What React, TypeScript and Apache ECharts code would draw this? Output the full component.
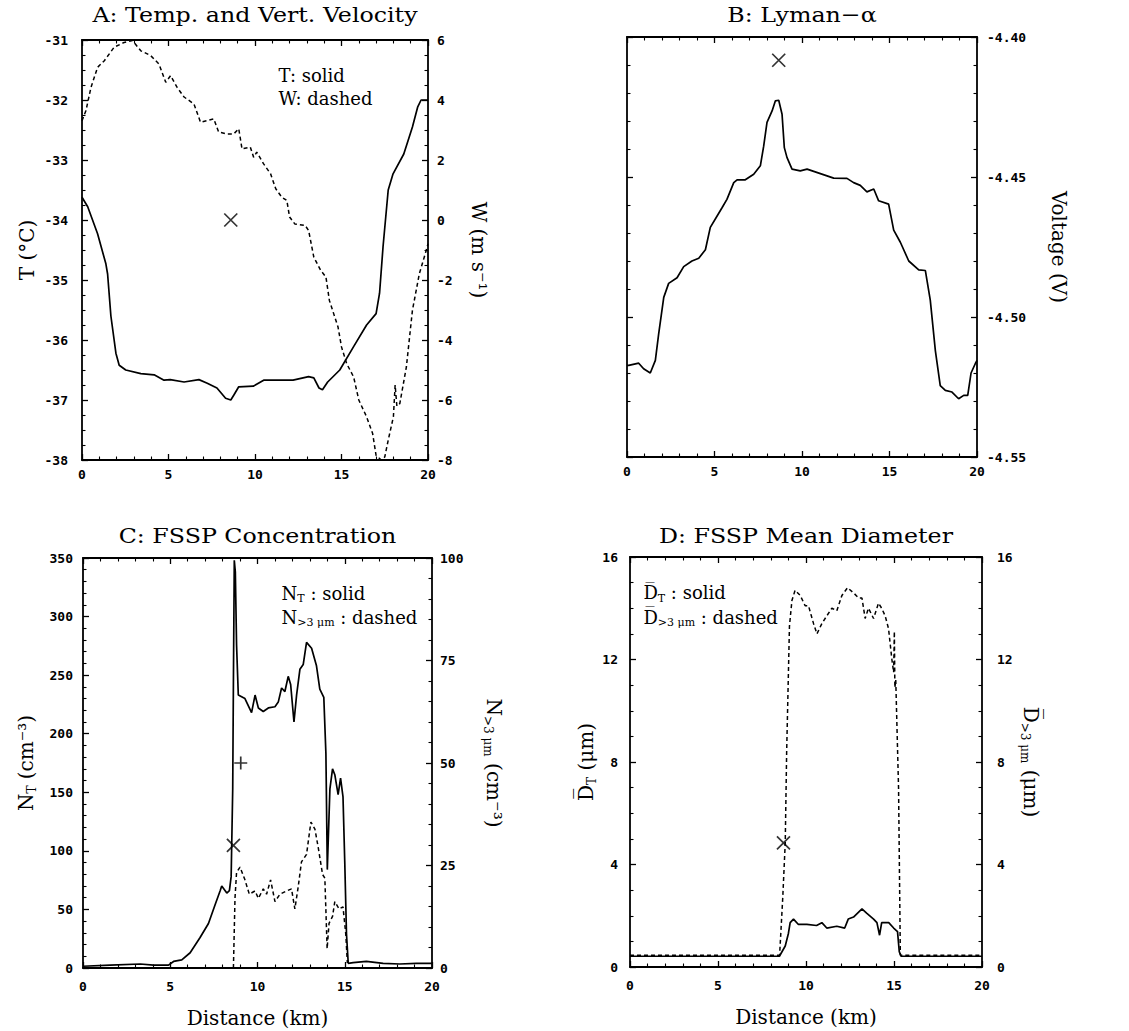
import React, { useEffect, useRef } from "react";
import * as echarts from "echarts";

// ---------- tick values ----------
const distTicks = [0, 5, 10, 15, 20];
const tempTicks = [-38, -37, -36, -35, -34, -33, -32, -31];
const wTicks = [-8, -6, -4, -2, 0, 2, 4, 6];
const voltTicks = [-4.55, -4.5, -4.45, -4.4];
const ntTicks = [0, 50, 100, 150, 200, 250, 300, 350];
const n3Ticks = [0, 25, 50, 75, 100];
const diamTicks = [0, 4, 8, 12, 16];

// ---------- Panel A: temperature (solid) and vertical velocity (dashed) ----------
const tempT: [number, number][] = [
  [0, -33.62], [0.33, -33.78], [0.9, -34.23], [1.38, -34.73], [1.48, -34.9], [1.67, -35.6],
  [1.96, -36.22], [2.15, -36.42], [2.53, -36.5], [3.4, -36.56], [4.17, -36.58], [4.74, -36.67],
  [5.1, -36.66], [5.9, -36.7], [6.76, -36.66], [7.24, -36.72], [7.8, -36.8], [8.3, -36.97],
  [8.6, -37.0], [8.77, -36.92], [9.06, -36.78], [9.9, -36.77], [10.5, -36.67], [11.5, -36.67],
  [12.2, -36.67], [13.1, -36.61], [13.4, -36.63], [13.7, -36.8], [13.9, -36.83], [14.2, -36.7],
  [14.9, -36.5], [15.7, -36.11], [16.45, -35.75], [17.0, -35.56], [17.2, -35.22], [17.4, -34.45],
  [17.7, -33.5], [17.98, -33.23], [18.6, -32.9], [19.1, -32.45], [19.4, -32.12], [19.6, -32.0], [20, -32.0],
];
const vertW: [number, number][] = [
  [0, 3.31], [0.23, 3.65], [0.52, 4.42], [0.9, 5.09], [1.29, 5.31], [1.86, 5.76], [2.44, 5.92],
  [2.92, 5.98], [3.4, 5.64], [3.97, 5.48], [4.45, 5.2], [4.84, 4.59], [5.12, 4.81], [5.5, 4.42],
  [5.9, 4.1], [6.47, 3.87], [6.85, 3.26], [7.62, 3.37], [7.9, 2.93], [8.4, 2.87], [8.77, 2.87],
  [9.06, 3.04], [9.25, 2.37], [9.73, 2.43], [9.92, 2.09], [10.1, 2.26], [10.5, 1.87], [10.9, 1.54],
  [11.2, 1.04], [11.55, 0.76], [11.84, 0.65], [12.0, 0.1], [12.3, -0.13], [12.9, -0.18], [13.1, -0.35],
  [13.4, -1.24], [13.8, -1.68], [14.1, -1.9], [14.3, -2.68], [14.8, -3.57], [15.0, -4.23], [15.3, -4.79],
  [15.7, -5.23], [16.0, -6.0], [16.45, -6.56], [16.8, -7.12], [17.0, -7.85], [17.3, -8.0], [17.5, -7.9],
  [17.7, -7.34], [18.0, -6.56], [18.1, -5.5], [18.2, -6.2], [18.37, -6.12], [18.75, -4.9], [19.1, -3.01],
  [19.5, -1.79], [19.9, -1.01], [20, -0.79],
];
const markA: [number, number][] = [[8.6, -34.0]];

// ---------- Panel B: Lyman-alpha voltage ----------
const lymanV: [number, number][] = [
  [0, -4.5173], [0.1, -4.5173], [0.67, -4.5165], [0.95, -4.5185], [1.33, -4.52], [1.62, -4.5155],
  [1.81, -4.506], [2.1, -4.493], [2.38, -4.488], [2.86, -4.486], [3.24, -4.482], [3.71, -4.48],
  [4.1, -4.479], [4.48, -4.476], [4.76, -4.468], [5.14, -4.464], [5.43, -4.461], [5.71, -4.458],
  [6.1, -4.452], [6.29, -4.451], [6.76, -4.451], [7.24, -4.449], [7.62, -4.446], [7.81, -4.439],
  [8.0, -4.4305], [8.29, -4.4264], [8.48, -4.4228], [8.67, -4.4226], [8.86, -4.4276], [8.99, -4.4395],
  [9.14, -4.443], [9.43, -4.4472], [9.9, -4.4478], [10.29, -4.4472], [10.67, -4.448], [11.43, -4.4496],
  [11.81, -4.4504], [12.57, -4.4505], [12.95, -4.452], [13.33, -4.453], [13.71, -4.4553], [14.1, -4.4543],
  [14.38, -4.4585], [14.95, -4.4597], [15.24, -4.469], [15.62, -4.4733], [16.1, -4.48], [16.67, -4.4832],
  [17.05, -4.4834], [17.33, -4.494], [17.62, -4.512], [17.9, -4.5245], [18.19, -4.5262], [18.57, -4.5268],
  [18.95, -4.5292], [19.24, -4.528], [19.47, -4.528], [19.66, -4.52], [19.9, -4.5167], [20, -4.5155],
];
const markB: [number, number][] = [[8.67, -4.4083]];

// ---------- Panel C: FSSP concentration ----------
const concNT: [number, number][] = [
  [0, 1.5], [1.56, 2.5], [3.28, 3.4], [4.04, 2.5], [4.9, 2.5], [5.19, 5.6], [5.66, 7], [6.14, 13],
  [6.71, 26], [7.19, 38], [7.57, 54], [7.86, 66], [7.95, 70], [8.24, 64], [8.39, 66], [8.49, 78],
  [8.58, 153], [8.62, 245], [8.67, 348], [8.73, 338], [8.8, 276], [8.9, 233], [9.28, 230], [9.66, 218],
  [9.86, 233], [10.05, 222], [10.33, 219], [10.62, 222], [11.0, 223], [11.19, 227], [11.38, 239],
  [11.57, 236], [11.76, 249], [11.9, 242], [12.09, 210], [12.24, 233], [12.43, 255], [12.62, 259],
  [12.81, 278], [13.1, 273], [13.38, 258], [13.57, 238], [13.8, 231], [13.92, 183], [14.0, 84],
  [14.15, 153], [14.3, 170], [14.43, 165], [14.62, 148], [14.76, 162], [14.9, 146], [15.0, 91],
  [15.1, 29], [15.2, 4], [15.48, 4.6], [16.24, 5.6], [17.2, 4], [18.15, 3.4], [19.1, 4], [20, 4],
];
const concN3: [number, number][] = [
  [8.62, 0], [8.71, 17], [8.8, 23.3], [9.0, 24.6], [9.28, 21.5], [9.53, 18], [9.86, 18.8], [10.05, 17],
  [10.33, 19.3], [10.52, 18], [10.75, 21.5], [11.0, 16.2], [11.29, 18], [11.67, 18.8], [11.95, 19.3],
  [12.14, 14.4], [12.33, 19.7], [12.52, 25.9], [12.81, 27.7], [13.06, 35.6], [13.29, 33.9], [13.48, 29.4],
  [13.73, 22.8], [13.86, 21.9], [13.99, 4.7], [14.1, 10.9], [14.3, 12.6], [14.43, 16.2], [14.68, 14.4],
  [14.9, 14.9], [15.06, 8.2], [15.15, 1.2],
];
const markCx: [number, number][] = [[8.62, 104.6]];
const markCplus: [number, number][] = [[9.04, 175]];

// ---------- Panel D: FSSP mean diameter ----------
const diamDT: [number, number][] = [
  [0, 0.42], [8.5, 0.42], [8.53, 0.47], [8.82, 0.82], [9.0, 1.31], [9.1, 1.73], [9.29, 1.87], [9.57, 1.66],
  [10.05, 1.66], [10.6, 1.62], [10.9, 1.73], [11.18, 1.52], [11.75, 1.59], [12.2, 1.52], [12.4, 1.87],
  [12.7, 1.95], [13.18, 2.27], [13.46, 2.09], [13.84, 1.87], [14.03, 1.73], [14.18, 1.24], [14.3, 1.73],
  [14.7, 1.73], [14.98, 1.52], [15.2, 1.38], [15.3, 0.6], [15.4, 0.42], [20, 0.42],
];
const diamD3: [number, number][] = [
  [0, 0.46], [8.5, 0.46], [8.53, 0.47], [8.68, 2.72], [8.82, 4.84], [8.9, 8.36], [9.06, 13.3], [9.2, 14.3],
  [9.38, 14.7], [9.67, 14.5], [9.95, 14.1], [10.14, 14.1], [10.43, 13.4], [10.62, 13.0], [10.9, 13.4],
  [11.18, 13.7], [11.47, 14.0], [11.75, 13.9], [12.04, 14.5], [12.36, 14.8], [12.7, 14.6], [12.99, 14.4],
  [13.18, 14.4], [13.36, 13.6], [13.55, 14.0], [13.84, 13.6], [14.12, 14.2], [14.3, 14.0], [14.5, 13.7],
  [14.69, 13.2], [14.88, 12.0], [14.98, 11.5], [15.02, 13.1], [15.05, 10.9], [15.1, 11.2], [15.26, 6.95],
  [15.36, 0.47], [15.4, 0.46], [20, 0.46],
];
const markD: [number, number][] = [[8.72, 4.84]];

// ---------- layout ----------
const GRIDS = [
  { left: 82, top: 40, width: 346, height: 420 },
  { left: 627, top: 37, width: 350, height: 420 },
  { left: 83, top: 558, width: 349, height: 410 },
  { left: 630, top: 557, width: 352, height: 410 },
];

const BLACK = "#000";
const MONO = '"DejaVu Sans Mono", monospace';
const SERIF = '"DejaVu Serif", serif';

const richName = {
  i: { fontFamily: SERIF, fontSize: 20, lineHeight: 24, color: BLACK },
  s: { fontFamily: SERIF, fontSize: 12, lineHeight: 9, verticalAlign: "bottom", color: BLACK },
};
const richLegend = {
  i: { fontFamily: SERIF, fontSize: 18, lineHeight: 22, color: BLACK },
  s: { fontFamily: SERIF, fontSize: 11, lineHeight: 8, verticalAlign: "bottom", color: BLACK },
};

const tickLabel = { fontFamily: MONO, fontWeight: "bold", fontSize: 13, color: BLACK };

function range(t: number[]) {
  return { min: t[0], max: t[t.length - 1], interval: +(t[1] - t[0]).toFixed(6) };
}

function xAxes(gi: number, margin: number, withName: boolean) {
  const base: any = {
    type: "value",
    gridIndex: gi,
    ...range(distTicks),
    axisLine: { show: true, onZero: false, lineStyle: { color: BLACK, width: 1.8 } },
    axisTick: { show: true, inside: true, length: 6, lineStyle: { color: BLACK, width: 1.3 } },
    minorTick: { show: true, splitNumber: 5, length: 3.5, lineStyle: { color: BLACK, width: 1.1 } },
    splitLine: { show: false },
    minorSplitLine: { show: false },
    nameMoveOverlap: false,
  };
  return [
    {
      ...base,
      position: "bottom",
      axisLabel: { ...tickLabel, show: true, margin },
      name: withName ? "Distance (km)" : "",
      nameLocation: "middle",
      nameGap: 40,
      nameTextStyle: { fontFamily: SERIF, fontSize: 20, color: BLACK },
    },
    { ...base, position: "top", axisLabel: { show: false } },
  ];
}

function yAxis(
  gi: number,
  pos: "left" | "right",
  ticks: number[],
  minor: number,
  showLabel: boolean,
  margin: number,
  name: string,
  nameGap: number,
  fmt?: (v: number) => string
) {
  return {
    type: "value",
    gridIndex: gi,
    position: pos,
    ...range(ticks),
    axisLine: { show: true, onZero: false, lineStyle: { color: BLACK, width: 1.8 } },
    axisTick: { show: true, inside: true, length: 6, lineStyle: { color: BLACK, width: 1.3 } },
    minorTick: { show: true, splitNumber: minor, length: 3.5, lineStyle: { color: BLACK, width: 1.1 } },
    splitLine: { show: false },
    minorSplitLine: { show: false },
    axisLabel: { ...tickLabel, show: showLabel, margin, formatter: fmt },
    name,
    nameLocation: "middle",
    nameGap,
    nameRotate: pos === "left" ? 90 : -90,
    nameMoveOverlap: false,
    nameTextStyle: { fontFamily: SERIF, fontSize: 20, color: BLACK, rich: richName },
  };
}

function toPx(gi: number, x: number, y: number, yt: number[]) {
  const g = GRIDS[gi];
  const y0 = yt[0];
  const y1 = yt[yt.length - 1];
  return [g.left + (x / 20) * g.width, g.top + ((y1 - y) / (y1 - y0)) * g.height];
}

function lineSeries(gi: number, side: 0 | 1, data: [number, number][], dashed: boolean) {
  return {
    type: "line",
    xAxisIndex: gi * 2,
    yAxisIndex: gi * 2 + side,
    data,
    showSymbol: false,
    symbol: "none",
    silent: true,
    lineStyle: { color: BLACK, width: dashed ? 1.5 : 1.7, type: dashed ? [4, 3] : "solid" },
  };
}

const CROSS = "path://M0,0L10,10M10,0L0,10";
const PLUS = "path://M5,0L5,10M0,5L10,5";

function markSeries(gi: number, side: 0 | 1, data: [number, number][], sym: string) {
  return {
    type: "scatter",
    xAxisIndex: gi * 2,
    yAxisIndex: gi * 2 + side,
    data,
    symbol: sym,
    symbolSize: 13,
    silent: true,
    itemStyle: { color: "none", borderColor: BLACK, borderWidth: 1.7 },
  };
}

function titleText(gi: number, text: string, dy: number) {
  const g = GRIDS[gi];
  return {
    type: "text",
    x: g.left + g.width / 2,
    y: g.top - dy,
    scaleX: 1.13,
    style: { text, fontFamily: SERIF, fontSize: 21, fill: BLACK, align: "center", verticalAlign: "middle" },
  };
}

function legendText(gi: number, x: number, y: number, yt: number[], text: string) {
  const [px, py] = toPx(gi, x, y, yt);
  return {
    type: "text",
    x: px,
    y: py,
    style: {
      text,
      fontFamily: SERIF,
      fontSize: 18,
      fill: BLACK,
      align: "left",
      verticalAlign: "middle",
      rich: richLegend,
    },
  };
}

export default function App() {
  const ref = useRef<HTMLDivElement>(null);
  useEffect(() => {
    if (!ref.current) return;
    const chart = echarts.init(ref.current, null, { renderer: "svg" });
    const option: any = {
      animation: false,
      backgroundColor: "#fff",
      grid: GRIDS.map((g) => ({ ...g, containLabel: false, outerBoundsMode: "none" })),
      xAxis: [...xAxes(0, 8, false), ...xAxes(1, 8, false), ...xAxes(2, 12, true), ...xAxes(3, 12, true)],
      yAxis: [
        yAxis(0, "left", tempTicks, 4, true, 14, "T (°C)", 45),
        yAxis(0, "right", wTicks, 4, true, 9, "W (m s⁻¹)", 41),
        yAxis(1, "left", voltTicks, 5, false, 8, "", 40),
        yAxis(1, "right", voltTicks, 5, true, 10, "Voltage (V)", 72, (v: number) => v.toFixed(2)),
        yAxis(2, "left", ntTicks, 5, true, 10, "{i|N}{s|T}{i| (cm⁻³)}", 45),
        yAxis(2, "right", n3Ticks, 5, true, 8, "{i|N}{s|>3 μm}{i| (cm⁻³)}", 50),
        yAxis(3, "left", diamTicks, 4, true, 12, "{i|D\u0305}{s|T}{i| (μm)}", 32),
        yAxis(3, "right", diamTicks, 4, true, 15, "{i|D\u0305}{s|>3 μm}{i| (μm)}", 37),
      ],
      series: [
        lineSeries(0, 0, tempT, false),
        lineSeries(0, 1, vertW, true),
        markSeries(0, 0, markA, CROSS),
        lineSeries(1, 1, lymanV, false),
        markSeries(1, 1, markB, CROSS),
        lineSeries(2, 0, concNT, false),
        lineSeries(2, 1, concN3, true),
        markSeries(2, 0, markCx, CROSS),
        markSeries(2, 0, markCplus, PLUS),
        lineSeries(3, 0, diamDT, false),
        lineSeries(3, 1, diamD3, true),
        markSeries(3, 0, markD, CROSS),
      ],
      graphic: [
        titleText(0, "A: Temp. and Vert. Velocity", 25),
        titleText(1, "B: Lyman−α", 22),
        titleText(2, "C: FSSP Concentration", 22),
        titleText(3, "D: FSSP Mean Diameter", 21),
        legendText(0, 11.36, -31.59, tempTicks, "{i|T: solid}"),
        legendText(0, 11.36, -31.98, tempTicks, "{i|W: dashed}"),
        legendText(2, 11.38, 319.7, ntTicks, "{i|N}{s|T}{i| : solid}"),
        legendText(2, 11.38, 299.6, ntTicks, "{i|N}{s|>3 μm}{i| : dashed}"),
        legendText(3, 0.76, 14.6, diamTicks, "{i|D\u0305}{s|T}{i| : solid}"),
        legendText(3, 0.76, 13.65, diamTicks, "{i|D\u0305}{s|>3 μm}{i| : dashed}"),
      ],
    };
    chart.setOption(option);
    return () => chart.dispose();
  }, []);
  return (
    <div
      ref={ref}
      style={{ position: "absolute", left: 0, top: 0, width: 1129, height: 1031, background: "#fff" }}
    />
  );
}
